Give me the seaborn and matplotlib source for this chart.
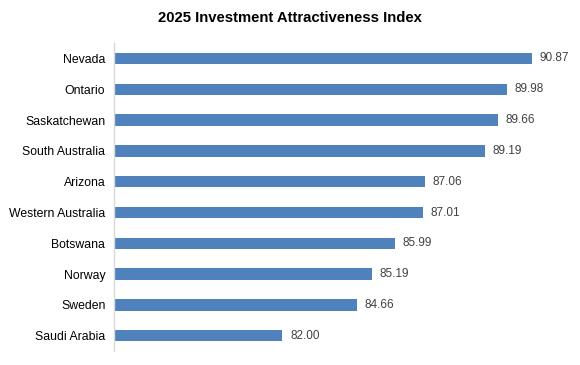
import matplotlib
matplotlib.use("Agg")
import matplotlib.pyplot as plt
import seaborn as sns
import pandas as pd

# ----------------------------
# Data
# ----------------------------
regions = ["Nevada", "Ontario", "Saskatchewan", "South Australia", "Arizona",
           "Western Australia", "Botswana", "Norway", "Sweden", "Saudi Arabia"]
scores = [90.87, 89.98, 89.66, 89.19, 87.06, 87.01, 85.99, 85.19, 84.66, 82.00]

df = pd.DataFrame({"region": regions, "score": scores})

sns.set_theme(style="white")
plt.rcParams["font.family"] = ["Liberation Sans", "DejaVu Sans"]

fig = plt.figure(figsize=(5.8, 3.65), dpi=100)
ax = fig.add_axes([0.196, 0.038, 0.776, 0.844])

sns.barplot(data=df, x="score", y="region", orient="h", color="#4F81BD",
            width=0.37, saturation=1, linewidth=0, ax=ax)

# value labels at bar ends
for i, v in enumerate(scores):
    ax.text(v + 0.27, i, f"{v:.2f}", va="center", ha="left",
            fontsize=8.5, color="#404040")

ax.set_xlim(76, 92)
ax.set_ylim(len(regions) - 0.5, -0.5)
ax.set_xlabel("")
ax.set_ylabel("")
ax.set_xticks([])
ax.tick_params(axis="y", length=0, labelsize=8.8, labelcolor="black", pad=6)
for s in ["top", "right", "bottom"]:
    ax.spines[s].set_visible(False)
ax.spines["left"].set_color("#D9D9D9")
ax.spines["left"].set_linewidth(1)

fig.text(0.5, 0.952, "2025 Investment Attractiveness Index", ha="center",
         va="center", fontsize=10.7, fontweight="bold", color="black")

fig.savefig("out.png", dpi=100)
